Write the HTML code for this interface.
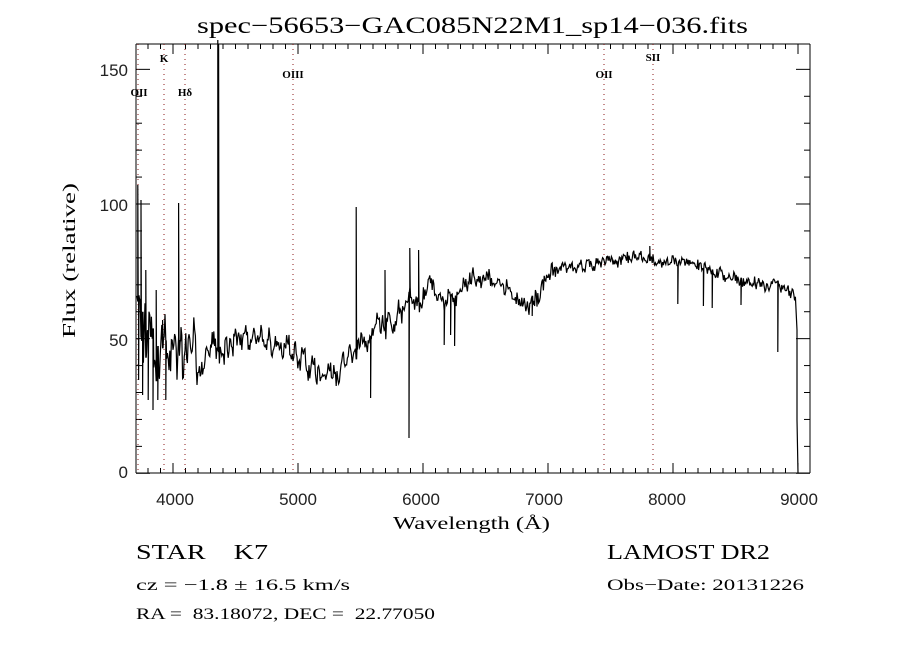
<!DOCTYPE html>
<html><head><meta charset="utf-8"><style>
html,body{margin:0;padding:0;background:#fff;}
svg{display:block}
</style></head><body>
<svg id="s" width="900" height="650" xmlns="http://www.w3.org/2000/svg">
<rect width="900" height="650" fill="#fff"/>
<text x="197" y="33" font-family="Liberation Serif, serif" font-size="23" textLength="551" lengthAdjust="spacingAndGlyphs">spec−56653−GAC085N22M1_sp14−036.fits</text>
<g id="axes" stroke="#000" stroke-width="1" fill="none"></g>
<g stroke="#8b1a1a" stroke-width="1" stroke-dasharray="1,4">
<line x1="138" y1="44" x2="138" y2="473"/>
<line x1="164" y1="44" x2="164" y2="473"/>
<line x1="185" y1="44" x2="185" y2="473"/>
<line x1="293" y1="44" x2="293" y2="473"/>
<line x1="604" y1="44" x2="604" y2="473"/>
<line x1="653" y1="44" x2="653" y2="473"/>
</g>
<g font-family="Liberation Serif, serif" font-size="11" font-weight="bold" text-anchor="middle">
<text x="139" y="96">OII</text>
<text x="164" y="62">K</text>
<text x="185" y="96">Hδ</text>
<text x="293" y="78">OIII</text>
<text x="604" y="78">OII</text>
<text x="653" y="61">SII</text>
</g>
<polyline id="spec" fill="none" stroke="#000" stroke-width="1.2" points=""/>
<g font-family="Liberation Sans, sans-serif" font-size="17" text-anchor="middle" fill="#222">
<text x="175" y="505">4000</text>
<text x="298" y="505">5000</text>
<text x="421" y="505">6000</text>
<text x="544" y="505">7000</text>
<text x="667" y="505">8000</text>
<text x="799" y="505">9000</text>
</g>
<g font-family="Liberation Sans, sans-serif" font-size="17" text-anchor="end" fill="#222">
<text x="128" y="478">0</text>
<text x="128" y="346">50</text>
<text x="128" y="211">100</text>
<text x="128" y="76">150</text>
</g>
<text x="393" y="529" font-family="Liberation Serif, serif" font-size="18" textLength="157" lengthAdjust="spacingAndGlyphs">Wavelength (Å)</text>
<text transform="translate(75,338) rotate(-90)" font-family="Liberation Serif, serif" font-size="18" textLength="155" lengthAdjust="spacingAndGlyphs">Flux (relative)</text>
<g font-family="Liberation Serif, serif" style="white-space:pre">
<text x="136" y="559" font-size="21" xml:space="preserve" textLength="132" lengthAdjust="spacingAndGlyphs">STAR    K7</text>
<text x="136" y="590" font-size="16" textLength="214" lengthAdjust="spacingAndGlyphs">cz = −1.8 ± 16.5 km/s</text>
<text x="136" y="619" font-size="16" xml:space="preserve" textLength="299" lengthAdjust="spacingAndGlyphs">RA =  83.18072, DEC =  22.77050</text>
<text x="607" y="559" font-size="21" textLength="163" lengthAdjust="spacingAndGlyphs">LAMOST DR2</text>
<text x="607" y="590" font-size="16" textLength="197" lengthAdjust="spacingAndGlyphs">Obs−Date: 20131226</text>
</g>
</svg>
<script>
(function(){
var NS="http://www.w3.org/2000/svg",ax=document.getElementById("axes");
function L(x1,y1,x2,y2){var l=document.createElementNS(NS,"line");l.setAttribute("x1",x1);l.setAttribute("y1",y1);l.setAttribute("x2",x2);l.setAttribute("y2",y2);ax.appendChild(l);}
var X0=136,X1=810,Y0=44,Y1=473;
L(X0,Y0,X1,Y0);L(X0,Y1,X1,Y1);L(X0,Y0,X0,Y1);L(X1,Y0,X1,Y1);
function xp(w){return 173+(w-4000)*0.125;}
function yp(v){return 473.3-v*2.693;}
for(var w=3800;w<=9000;w+=100){var x=xp(w);if(x<X0||x>X1)continue;var len=(w%1000==0)?10:5;L(x,Y1,x,Y1-len);L(x,Y0,x,Y0+len);}
for(var v=0;v<=150;v+=10){var y=yp(v);var len=(v%50==0)?14:6;L(X0,y,X0+len,y);L(X1,y,X1-len,y);}
var A=[[137,290],[145,340],[160,360],[175,368],[200,365],[215,350],[230,340],[260,340],[290,350],[305,365],[320,378],[335,375],[350,355],[370,335],[390,320],[410,300],[420,305],[430,285],[440,300],[455,295],[470,283],[490,280],[505,290],[520,300],[532,305],[540,290],[545,272],[560,266],[580,268],[600,262],[620,258],[650,259],[680,262],[700,266],[720,274],[740,280],[760,282],[780,286],[790,292],[795,300]];
function base(x){for(var i=0;i<A.length-1;i++){if(x>=A[i][0]&&x<=A[i+1][0]){var t=(x-A[i][0])/(A[i+1][0]-A[i][0]);return A[i][1]+t*(A[i+1][1]-A[i][1]);}}return A[A.length-1][1];}
var a=987654321;function r(){a|=0;a=a+0x6D2B79F5|0;var t=Math.imul(a^a>>>15,1|a);t=t+Math.imul(t^t>>>7,61|t)^t;return ((t^t>>>14)>>>0)/4294967296-0.5;}
var spikes={138:185,139:380,141:200,143:395,146:270,148:400,151:330,153:410,156:290,158:400,163:320,166:400,179:203,180:340,218:40,219:44,356:207,357:340,371:398,385:270,409:438,410:248,419:250,444:345,451:335,455:346,532:316,678:304,778:352,650:246,703:306,712:308,741:305};
var pts=[],walk=0;
for(var x=137;x<=796;x+=0.8){
 var xi=Math.round(x);
 var amp=x<200?55:(x<240?28:(x<430?20:(x<560?16:11)));
 walk=walk*0.6+r()*0.8;
 var y=base(x)+(r()*0.7+walk)*amp;
 if(spikes[xi]!==undefined && Math.abs(x-xi)<0.4){pts.push(x.toFixed(1)+","+y.toFixed(1));pts.push(x.toFixed(1)+","+spikes[xi]);pts.push((x+0.4).toFixed(1)+","+y.toFixed(1));continue;}
 pts.push(x.toFixed(1)+","+y.toFixed(1));
}
pts.push("797,330");pts.push("797,420");pts.push("798,473");
document.getElementById("spec").setAttribute("points",pts.join(" "));
})();
</script>
</body></html>
